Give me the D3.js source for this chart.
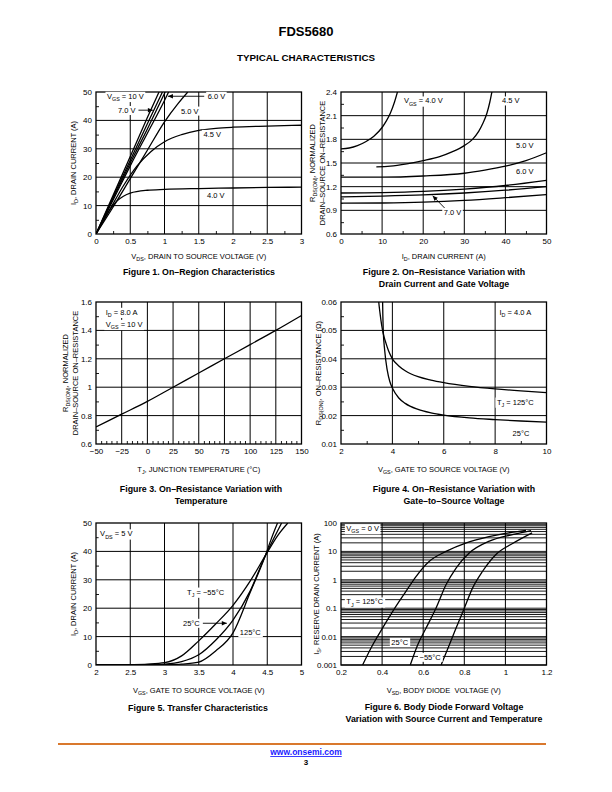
<!DOCTYPE html>
<html><head><meta charset="utf-8">
<script src="https://cdn.jsdelivr.net/npm/d3@7"></script>
<style>
body{margin:0;background:#fff}
svg{display:block}
text{white-space:pre}
</style></head><body>
<svg id="page" width="612" height="792"></svg>
<script>
// ---------------- DATA ----------------
// Figure 1: ID vs VDS for several VGS
const fig1XTicks = [0,0.5,1,1.5,2,2.5,3];
const fig1XLabels = ["0","0.5","1","1.5","2","2.5","3"];
const fig1YTicks = [0,10,20,30,40,50];
const fig1YLabels = ["0","10","20","30","40","50"];
const fig1Vgs10 = [[0,0],[0.25,13.6],[0.5,27.3],[0.75,41],[0.92,50]];
const fig1Vgs7  = [[0,0],[0.25,13],[0.5,26],[0.75,38.8],[0.97,50]];
const fig1VgsX  = [[0,0],[0.25,12.5],[0.5,25],[0.75,37],[1.01,50]];
const fig1Vgs6  = [[0,0],[0.25,12],[0.5,24],[0.75,35.5],[1.0,47],[1.06,50]];
const fig1Vgs5  = [[0,0],[0.25,9.5],[0.5,19.5],[0.75,29.5],[1.0,39.5],[1.2,46],[1.34,50]];
const fig1Vgs45 = [[0,0],[0.2,8.5],[0.4,17],[0.6,24],[0.8,29],[1.0,32.5],[1.25,35],[1.5,36.5],[1.75,37.2],[2,37.6],[2.5,38],[3,38.3]];
const fig1Vgs4  = [[0,0],[0.1,4.5],[0.2,8.5],[0.3,11.5],[0.4,13.3],[0.5,14.4],[0.75,15.4],[1,15.7],[1.5,16],[2,16.2],[2.5,16.4],[3,16.5]];

// Figure 2: normalized RDS(on) vs ID
const fig2XTicks = [0,10,20,30,40,50];
const fig2XLabels = ["0","10","20","30","40","50"];
const fig2YTicks = [0.6,0.9,1.2,1.5,1.8,2.1,2.4];
const fig2YLabels = ["0.6","0.9","1.2","1.5","1.8","2.1","2.4"];
const fig2Vgs40 = [[0,1.68],[2,1.69],[4,1.72],[6,1.77],[8,1.84],[10,1.95],[11,2.03],[12,2.13],[13,2.27],[14,2.45]];
const fig2Vgs45 = [[8.6,1.45],[12,1.46],[16,1.49],[20,1.53],[24,1.58],[27,1.64],[30,1.72],[32,1.8],[33.5,1.9],[34.5,2.0],[35.5,2.13],[36.2,2.27],[36.9,2.45]];
const fig2Vgs50 = [[0,1.32],[10,1.32],[20,1.335],[30,1.37],[35,1.41],[40,1.46],[45,1.53],[50,1.63]];
const fig2Vgs60 = [[0,1.12],[10,1.125],[20,1.14],[30,1.17],[40,1.215],[50,1.28]];
const fig2Vgs70 = [[0,1.07],[10,1.08],[20,1.095],[30,1.12],[40,1.155],[50,1.2]];
const fig2Vgs10 = [[0,0.99],[10,0.993],[20,1.003],[30,1.025],[40,1.06],[50,1.1]];

// Figure 3: normalized RDS(on) vs TJ
const fig3XTicks = [-50,-25,0,25,50,75,100,125,150];
const fig3XLabels = ["\u221250","\u221225","0","25","50","75","100","125","150"];
const fig3YTicks = [0.6,0.8,1.0,1.2,1.4,1.6];
const fig3YLabels = ["0.6","0.8","1","1.2","1.4","1.6"];
const fig3Curve = [[-50,0.72],[-25,0.81],[0,0.9],[25,1.0],[50,1.1],[75,1.2],[100,1.3],[125,1.4],[150,1.505]];

// Figure 4: RDS(on) vs VGS
const fig4XTicks = [2,4,6,8,10];
const fig4XLabels = ["2","4","6","8","10"];
const fig4YTicks = [0.01,0.02,0.03,0.04,0.05,0.06];
const fig4YLabels = ["0.01","0.02","0.03","0.04","0.05","0.06"];
const fig4T125 = [[3.44,0.064],[3.47,0.06],[3.52,0.056],[3.58,0.052],[3.64,0.049],[3.75,0.0455],[3.85,0.0428],[4,0.04],[4.25,0.0375],[4.5,0.0358],[5,0.0337],[5.5,0.0325],[6,0.0316],[7,0.0303],[8,0.0294],[9,0.0287],[10,0.0281]];
const fig4T25  = [[3.615,0.064],[3.62,0.06],[3.63,0.055],[3.645,0.05],[3.7,0.043],[3.8,0.036],[3.9,0.032],[4,0.0297],[4.25,0.0262],[4.5,0.0243],[5,0.0222],[5.5,0.021],[6,0.0202],[7,0.0192],[8,0.0186],[9,0.0181],[10,0.0177]];

// Figure 5: transfer characteristics
const fig5XTicks = [2,2.5,3,3.5,4,4.5,5];
const fig5XLabels = ["2","2.5","3","3.5","4","4.5","5"];
const fig5YTicks = [0,10,20,30,40,50];
const fig5YLabels = ["0","10","20","30","40","50"];
const fig5CurveA = [[2,0],[2.3,0],[2.5,0.1],[2.75,0.3],[3,0.8],[3.25,3.2],[3.5,8.5],[3.75,14.5],[4,21],[4.25,29.5],[4.47,38.4],[4.65,45.5],[4.8,50]];
const fig5CurveB = [[2,0],[2.6,0],[2.8,0.1],[3,0.3],[3.25,1.2],[3.5,3.6],[3.75,8.8],[4,15.8],[4.25,26],[4.47,38.4],[4.6,44.8],[4.71,50]];
const fig5CurveC = [[2,0],[2.8,0],[3,0.1],[3.25,0.3],[3.5,1.0],[3.75,5],[4,11.3],[4.25,25.5],[4.47,38.4],[4.56,44.5],[4.65,50]];

// Figure 6: body diode forward voltage
const fig6XTicks = [0.2,0.4,0.6,0.8,1.0,1.2];
const fig6XLabels = ["0.2","0.4","0.6","0.8","1","1.2"];
const fig6YTicks = [0.001,0.01,0.1,1,10,100];
const fig6YLabels = ["0.001","0.01","0.1","1","10","100"];
const fig6T125 = [[0.305,0.001],[0.35,0.0045],[0.402,0.02],[0.451,0.076],[0.516,0.39],[0.565,1.3],[0.63,4.5],[0.711,10],[0.81,20],[0.92,33],[1.0,43],[1.1,55]];
const fig6T25  = [[0.537,0.001],[0.573,0.0051],[0.614,0.02],[0.662,0.1],[0.711,0.67],[0.76,2.6],[0.824,8.8],[0.922,23],[1.035,39],[1.125,54]];
const fig6Tm55 = [[0.687,0.001],[0.727,0.0051],[0.76,0.02],[0.8,0.1],[0.84,0.51],[0.889,2.0],[0.954,7.8],[1.035,19],[1.13,45]];

// ---------------- DRAWING ----------------
const FONT = "'Liberation Sans', Arial, Helvetica, sans-serif";
const svg = d3.select("#page").attr("font-family", FONT);
const defs = svg.append("defs");
defs.append("marker").attr("id","arrow").attr("viewBox","0 0 10 10")
  .attr("refX",10).attr("refY",5).attr("markerWidth",6).attr("markerHeight",5)
  .attr("orient","auto").attr("markerUnits","userSpaceOnUse")
  .append("path").attr("d","M0,0.5 L10,5 L0,9.5 Z").attr("fill","#000");

function rich(t, parts, size) {
  let shifted = false;
  parts.forEach(p => {
    const ts = t.append("tspan").text(p[0]);
    if (p[1]) {
      ts.attr("font-size", size * 0.72).attr("dy", shifted ? 0 : size * 0.3);
      shifted = true;
    } else {
      ts.attr("font-size", size).attr("dy", shifted ? -size * 0.3 : 0);
      shifted = false;
    }
  });
  return t;
}

const COL = [{left:96, right:301.5}, {left:341, right:546.5}];
const ROW = [{top:92, bottom:234}, {top:302, bottom:444}, {top:523, bottom:665}];

function panel(c) {
  const g = svg.append("g");
  const x = (c.xLog ? d3.scaleLog() : d3.scaleLinear()).domain(c.xDomain).range([c.left, c.right]);
  const y = (c.yLog ? d3.scaleLog() : d3.scaleLinear()).domain(c.yDomain).range([c.bottom, c.top]);
  const cid = "clip" + c.id;
  defs.append("clipPath").attr("id", cid).append("rect")
    .attr("x", c.left).attr("y", c.top).attr("width", c.right - c.left).attr("height", c.bottom - c.top);

  g.append("g").selectAll("line").data(c.xGrid).join("line")
    .attr("x1", d => x(d)).attr("x2", d => x(d)).attr("y1", c.top).attr("y2", c.bottom)
    .attr("stroke", "#000").attr("stroke-width", 1);
  g.append("g").selectAll("line").data(c.yGrid).join("line")
    .attr("y1", d => y(d)).attr("y2", d => y(d)).attr("x1", c.left).attr("x2", c.right)
    .attr("stroke", "#000").attr("stroke-width", c.yGridW || 1);

  if (c.xMinor) {
    const a = g.append("g").attr("transform", `translate(0,${c.bottom})`)
      .call(d3.axisBottom(x).tickValues(c.xMinor).tickSize(-3).tickFormat(() => ""));
    a.select(".domain").remove();
    a.selectAll("line").attr("stroke-width", 0.9);
  }
  if (c.yMinor) {
    const a = g.append("g").attr("transform", `translate(${c.left},0)`)
      .call(d3.axisLeft(y).tickValues(c.yMinor).tickSize(-3).tickFormat(() => ""));
    a.select(".domain").remove();
    a.selectAll("line").attr("stroke-width", 0.9);
  }

  const ax = g.append("g").attr("transform", `translate(0,${c.bottom})`)
    .call(d3.axisBottom(x).tickValues(c.xTicks).tickFormat((d, i) => c.xLabels[i]).tickSize(0).tickPadding(c.xPad || 4));
  ax.select(".domain").remove();
  ax.attr("font-family", FONT).attr("font-size", 8);
  ax.selectAll("text").attr("fill", "#000");

  const ay = g.append("g").attr("transform", `translate(${c.left},0)`)
    .call(d3.axisLeft(y).tickValues(c.yTicks).tickFormat((d, i) => c.yLabels[i]).tickSize(0).tickPadding(4));
  ay.select(".domain").remove();
  ay.attr("font-family", FONT).attr("font-size", 8);
  ay.selectAll("text").attr("fill", "#000");

  const line = d3.line().x(d => x(d[0])).y(d => y(d[1])).curve(d3.curveMonotoneX);
  g.append("g").attr("clip-path", `url(#${cid})`).selectAll("path").data(c.series).join("path")
    .attr("d", d => line(d)).attr("fill", "none").attr("stroke", "#000").attr("stroke-width", 1.3);

  g.append("rect").attr("x", c.left).attr("y", c.top).attr("width", c.right - c.left).attr("height", c.bottom - c.top)
    .attr("fill", "none").attr("stroke", "#000").attr("stroke-width", 1.3);

  // axis titles
  const xt = g.append("text").attr("x", (c.left + c.right) / 2).attr("y", c.xTitleY)
    .attr("text-anchor", "middle").attr("fill", "#000");
  rich(xt, c.xTitle, 7.5);
  c.yTitles.forEach((yt, i) => {
    const t = g.append("text").attr("text-anchor", "middle").attr("fill", "#000")
      .attr("transform", `translate(${c.yTitleX[i]},${(c.top + c.bottom) / 2}) rotate(-90)`);
    rich(t, yt, 7.5);
  });
  // caption
  c.caption.forEach((s, i) => {
    g.append("text").attr("x", c.capX).attr("y", c.capY + i * 11.5).attr("text-anchor", "middle")
      .attr("font-weight", "bold").attr("font-size", 8.8).attr("fill", "#000").text(s);
  });
  return {g, x, y};
}

function note(P, xv, yv, parts, box = true) {
  const t = P.g.append("text").attr("x", P.x(xv)).attr("y", P.y(yv)).attr("fill", "#000");
  rich(t, parts, 7.5);
  if (box) {
    const bb = t.node().getBBox();
    P.g.insert("rect", () => t.node()).attr("x", bb.x - 1.5).attr("y", bb.y)
      .attr("width", bb.width + 3).attr("height", bb.height).attr("fill", "#fff");
  }
}
function arrow(P, x1, y1, x2, y2) {
  P.g.append("line").attr("x1", P.x(x1)).attr("y1", P.y(y1)).attr("x2", P.x(x2)).attr("y2", P.y(y2))
    .attr("stroke", "#000").attr("stroke-width", 0.9).attr("marker-end", "url(#arrow)");
}
const range = (a, b, s) => d3.range(a, b + s / 2, s);
const notIn = (arr, majors) => arr.filter(v => !majors.some(m => Math.abs(m - v) < 1e-9));

// header
svg.append("text").attr("x", 306).attr("y", 35.5).attr("text-anchor", "middle").attr("font-weight", "bold")
  .attr("font-size", 13).text("FDS5680");
svg.append("text").attr("x", 306).attr("y", 60.5).attr("text-anchor", "middle").attr("font-weight", "bold")
  .attr("font-size", 9.8).text("TYPICAL CHARACTERISTICS");

// Figure 1
const P1 = panel({id:1, ...COL[0], ...ROW[0], xDomain:[0,3], yDomain:[0,50],
  xTicks:fig1XTicks, xLabels:fig1XLabels, yTicks:fig1YTicks, yLabels:fig1YLabels,
  xGrid:[0.5,1,1.5,2,2.5], yGrid:[10,20,30,40],
  xMinor:[0.25,0.75,1.25,1.75,2.25,2.75], yMinor:[5,15,25,35,45],
  series:[fig1Vgs10, fig1Vgs7, fig1VgsX, fig1Vgs6, fig1Vgs5, fig1Vgs45, fig1Vgs4],
  xTitle:[["V"],["DS",1],[", DRAIN TO SOURCE VOLTAGE (V)"]], xTitleY:258.5,
  yTitles:[[["I"],["D",1],[", DRAIN CURRENT (A)"]]], yTitleX:[75.5],
  caption:["Figure 1. On\u2013Region Characteristics"], capX:199, capY:275});
note(P1, 0.16, 47.6, [["V"],["GS",1],[" = 10 V"]]);
note(P1, 0.32, 42.6, [["7.0 V"]]);
arrow(P1, 0.62, 43.6, 0.83, 43.6);
note(P1, 1.63, 47.6, [["6.0 V"]]);
arrow(P1, 1.58, 48.5, 1.05, 48.5);
note(P1, 1.24, 42.4, [["5.0 V"]]);
note(P1, 1.57, 34.2, [["4.5 V"]]);
note(P1, 1.62, 12.6, [["4.0 V"]]);

// Figure 2
const P2 = panel({id:2, ...COL[1], ...ROW[0], xDomain:[0,50], yDomain:[0.6,2.4],
  xTicks:fig2XTicks, xLabels:fig2XLabels, yTicks:fig2YTicks, yLabels:fig2YLabels,
  xGrid:[10,20,30,40], yGrid:[0.9,1.2,1.5,1.8,2.1],
  xMinor:[5,15,25,35,45], yMinor:[0.75,1.05,1.35,1.65,1.95,2.25],
  series:[fig2Vgs40, fig2Vgs45, fig2Vgs50, fig2Vgs60, fig2Vgs70, fig2Vgs10],
  xTitle:[["I"],["D",1],[", DRAIN CURRENT (A)"]], xTitleY:258.5,
  yTitles:[[["R"],["DS(ON)",1],[", NORMALIZED"]], [["DRAIN\u2013SOURCE ON\u2013RESISTANCE"]]], yTitleX:[314.5, 324.5],
  caption:["Figure 2. On\u2013Resistance Variation with", "Drain Current and Gate Voltage"], capX:444, capY:275});
note(P2, 15.3, 2.255, [["V"],["GS",1],[" = 4.0 V"]]);
note(P2, 39.2, 2.255, [["4.5 V"]]);
note(P2, 42.6, 1.69, [["5.0 V"]]);
note(P2, 42.6, 1.36, [["6.0 V"]]);
note(P2, 25, 0.84, [["7.0 V"]]);
arrow(P2, 25.2, 0.93, 22.3, 1.085);

// Figure 3
const P3 = panel({id:3, ...COL[0], ...ROW[1], xDomain:[-50,150], yDomain:[0.6,1.6],
  xTicks:fig3XTicks, xLabels:fig3XLabels, yTicks:fig3YTicks, yLabels:fig3YLabels,
  xGrid:[-25,0,25,50,75,100,125], yGrid:[0.8,1.0,1.2,1.4],
  xMinor:notIn(range(-45,145,5), fig3XTicks), yMinor:[0.7,0.9,1.1,1.3,1.5],
  series:[fig3Curve],
  xTitle:[["T"],["J",1],[", JUNCTION TEMPERATURE (\u00B0C)"]], xTitleY:471.5,
  yTitles:[[["R"],["DS(ON)",1],[", NORMALIZED"]], [["DRAIN\u2013SOURCE ON\u2013RESISTANCE"]]], yTitleX:[67.5, 77.5],
  caption:["Figure 3. On\u2013Resistance Variation with", "Temperature"], capX:201, capY:492});
note(P3, -40.5, 1.51, [["I"],["D",1],[" = 8.0 A"]]);
note(P3, -40.5, 1.425, [["V"],["GS",1],[" = 10 V"]]);

// Figure 4
const P4 = panel({id:4, ...COL[1], ...ROW[1], xDomain:[2,10], yDomain:[0.01,0.06],
  xTicks:fig4XTicks, xLabels:fig4XLabels, yTicks:fig4YTicks, yLabels:fig4YLabels,
  xGrid:[4,6,8], yGrid:[0.02,0.03,0.04,0.05],
  xMinor:[3,5,7,9], yMinor:[0.015,0.025,0.035,0.045,0.055],
  series:[fig4T125, fig4T25],
  xTitle:[["V"],["GS",1],[", GATE TO SOURCE VOLTAGE (V)"]], xTitleY:471.5,
  yTitles:[[["R"],["DS(ON)",1],[", ON\u2013RESISTANCE (\u03A9)"]]], yTitleX:[320.5],
  caption:["Figure 4. On\u2013Resistance Variation with", "Gate\u2013to\u2013Source Voltage"], capX:454, capY:492});
note(P4, 8.17, 0.0555, [["I"],["D",1],[" = 4.0 A"]]);
note(P4, 8.07, 0.0239, [["T"],["J",1],[" = 125\u00B0C"]]);
note(P4, 8.68, 0.0127, [["25\u00B0C"]]);

// Figure 5
const P5 = panel({id:5, ...COL[0], ...ROW[2], xDomain:[2,5], yDomain:[0,50],
  xTicks:fig5XTicks, xLabels:fig5XLabels, yTicks:fig5YTicks, yLabels:fig5YLabels,
  xGrid:[2.5,3,3.5,4,4.5], yGrid:[10,20,30,40],
  yMinor:[5,15,25,35,45],
  series:[fig5CurveA, fig5CurveB, fig5CurveC],
  xTitle:[["V"],["GS",1],[", GATE TO SOURCE VOLTAGE (V)"]], xTitleY:692.5,
  yTitles:[[["I"],["D",1],[", DRAIN CURRENT (A)"]]], yTitleX:[75.5],
  caption:["Figure 5. Transfer Characteristics"], capX:198, capY:711});
note(P5, 2.06, 45.3, [["V"],["DS",1],[" = 5 V"]]);
note(P5, 3.33, 24.8, [["T"],["J",1],[" = \u221255\u00B0C"]]);
note(P5, 3.27, 13.8, [["25\u00B0C"]]);
arrow(P5, 3.56, 14.7, 3.91, 14.7);
note(P5, 4.1, 10.5, [["125\u00B0C"]]);

// Figure 6
const fig6Grid = [];
[-3,-2,-1,0,1].forEach(e => d3.range(1,10).forEach(k => fig6Grid.push(k * Math.pow(10, e))));
const P6 = panel({id:6, ...COL[1], ...ROW[2], xDomain:[0.2,1.2], yDomain:[0.001,100], yLog:true,
  xTicks:fig6XTicks, xLabels:fig6XLabels, yTicks:fig6YTicks, yLabels:fig6YLabels,
  xGrid:[0.4,0.6,0.8,1.0], yGrid:fig6Grid, yGridW:0.9,
  series:[fig6T125, fig6T25, fig6Tm55],
  xTitle:[["V"],["SD",1],[", BODY DIODE  VOLTAGE (V)"]], xTitleY:692.5,
  yTitles:[[["I"],["S",1],[", RESERVE DRAIN CURRENT (A)"]]], yTitleX:[318.5],
  caption:["Figure 6. Body Diode Forward Voltage", "Variation with Source Current and Temperature"], capX:444, capY:710});
note(P6, 0.226, 52, [["V"],["GS",1],[" = 0 V"]]);
note(P6, 0.226, 0.136, [["T"],["J",1],[" = 125\u00B0C"]]);
note(P6, 0.445, 0.0051, [["25\u00B0C"]]);
note(P6, 0.582, 0.00152, [["\u221255\u00B0C"]]);

// footer
svg.append("line").attr("x1", 58).attr("x2", 546).attr("y1", 744).attr("y2", 744)
  .attr("stroke", "#D9782D").attr("stroke-width", 1.8);
svg.append("text").attr("x", 306).attr("y", 755).attr("text-anchor", "middle").attr("font-size", 8.5)
  .attr("font-weight", "bold").attr("fill", "#1a1aff").attr("text-decoration", "underline").text("www.onsemi.com");
svg.append("text").attr("x", 306).attr("y", 765).attr("text-anchor", "middle").attr("font-size", 8)
  .attr("font-weight", "bold").attr("fill", "#000").text("3");
</script>
</body></html>
